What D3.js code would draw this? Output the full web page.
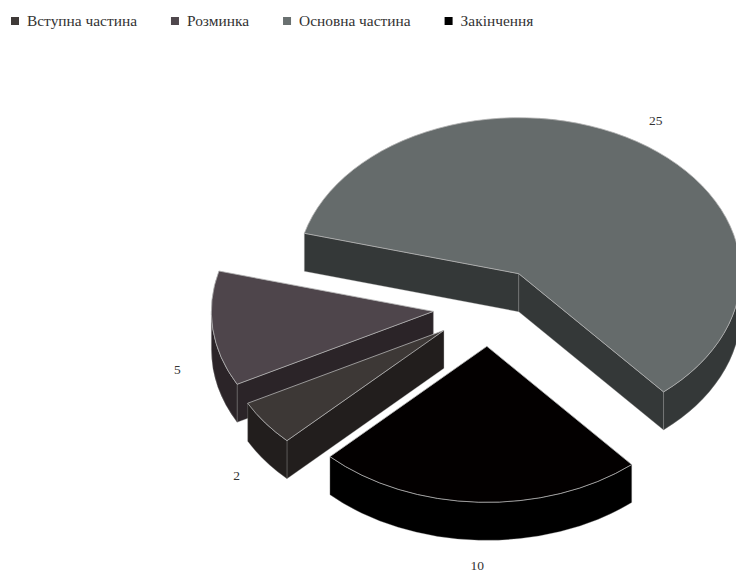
<!DOCTYPE html>
<html><head><meta charset="utf-8">
<script src="https://cdn.jsdelivr.net/npm/d3@7/dist/d3.min.js"></script>
<style>body{margin:0;background:#fff}svg{display:block}
svg text{font-family:"Liberation Serif","Times New Roman","DejaVu Serif",serif;}</style>
</head><body><svg id="c" width="736" height="575"></svg>
<script>
const categories = ["Вступна частина", "Розминка", "Основна частина", "Закінчення"];
const values = [2, 5, 25, 10];
const topColors = ["#3d3836", "#4e454b", "#656b6b", "#030000"];
const sideColors = ["#221e1d", "#2b2428", "#343838", "#000000"];
const legendColors = ["#3f3a38", "#4f474c", "#697070", "#000000"];

const cx = 489, cy = 307, rx = 222, ry = 156, depth = 38, explode = 56;
const k = ry / rx;
const svg = d3.select("#c");

const pie = d3.pie().sort(null)
  .startAngle(225 * Math.PI / 180)
  .endAngle(585 * Math.PI / 180);
const arcs = pie(values);

const rScale = d3.scaleLinear().domain([0, 1]).range([0, rx]);

function P(c, t, r, z) { return [c[0] + r * Math.cos(t), c[1] + r * k * Math.sin(t) + z]; }

const slices = arcs.map((a, i) => {
  const t1 = a.startAngle - Math.PI / 2, t2 = a.endAngle - Math.PI / 2;
  const tm = (t1 + t2) / 2;
  const c = [cx + explode * Math.cos(tm), cy + explode * k * Math.sin(tm)];
  return { i, t1, t2, tm, c };
});

const R = rScale(1);
const g = svg.append("g");

slices.slice().sort((a, b) => a.c[1] - b.c[1]).forEach(s => {
  const { i, t1, t2, c } = s;
  const wallStyle = sel => sel.attr("fill", sideColors[i]).attr("stroke", "#9a9a9a")
    .attr("stroke-width", 0.6).attr("stroke-opacity", 0.55).attr("stroke-linejoin", "round");
  [[t1, -Math.cos(t1)], [t2, Math.cos(t2)]].forEach(([t, vis]) => {
    if (vis > 0) {
      const o = P(c, t, R, 0), ob = P(c, t, R, depth);
      g.append("path").attr("d", `M${c[0]},${c[1]}L${o[0]},${o[1]}L${ob[0]},${ob[1]}L${c[0]},${c[1] + depth}Z`)
        .call(wallStyle);
    }
  });
  for (let n = -1; n <= 2; n++) {
    const a = Math.max(t1, 2 * Math.PI * n), b = Math.min(t2, 2 * Math.PI * n + Math.PI);
    if (b > a) {
      const p1 = P(c, a, R, 0), p2 = P(c, b, R, 0), p3 = P(c, b, R, depth), p4 = P(c, a, R, depth);
      const la = (b - a) > Math.PI ? 1 : 0;
      g.append("path").attr("d",
        `M${p1[0]},${p1[1]}A${R},${R * k} 0 ${la} 1 ${p2[0]},${p2[1]}L${p3[0]},${p3[1]}A${R},${R * k} 0 ${la} 0 ${p4[0]},${p4[1]}Z`)
        .call(wallStyle);
    }
  }
  const o1 = P(c, t1, R, 0), o2 = P(c, t2, R, 0);
  const la = (t2 - t1) > Math.PI ? 1 : 0;
  g.append("path").attr("d",
    `M${c[0]},${c[1]}L${o1[0]},${o1[1]}A${R},${R * k} 0 ${la} 1 ${o2[0]},${o2[1]}Z`)
    .attr("fill", topColors[i]).attr("stroke", "#b4b4b4").attr("stroke-width", 0.8)
    .attr("stroke-linejoin", "round");
});

slices.forEach(s => {
  const f = 1.16;
  const sn = Math.sin(s.tm);
  const x = s.c[0] + f * R * Math.cos(s.tm);
  const y = s.c[1] + f * R * k * sn + (sn > 0 ? depth : 0);
  svg.append("text").attr("x", x).attr("y", y).attr("text-anchor", "middle")
    .attr("dominant-baseline", "central").attr("font-size", 13.5)
    .attr("fill", "#333").text(values[s.i]);
});

let lx = 11;
categories.forEach((name, i) => {
  const gi = svg.append("g");
  gi.append("rect").attr("x", lx).attr("y", 17).attr("width", 8).attr("height", 8).attr("fill", legendColors[i]);
  const t = gi.append("text").attr("x", lx + 16).attr("y", 26)
    .attr("font-size", 14).attr("fill", "#333").text(name);
  const w = t.node().getComputedTextLength() * 1.1;
  t.attr("textLength", w).attr("lengthAdjust", "spacingAndGlyphs");
  lx += 16 + w + 34;
});
</script></body></html>
